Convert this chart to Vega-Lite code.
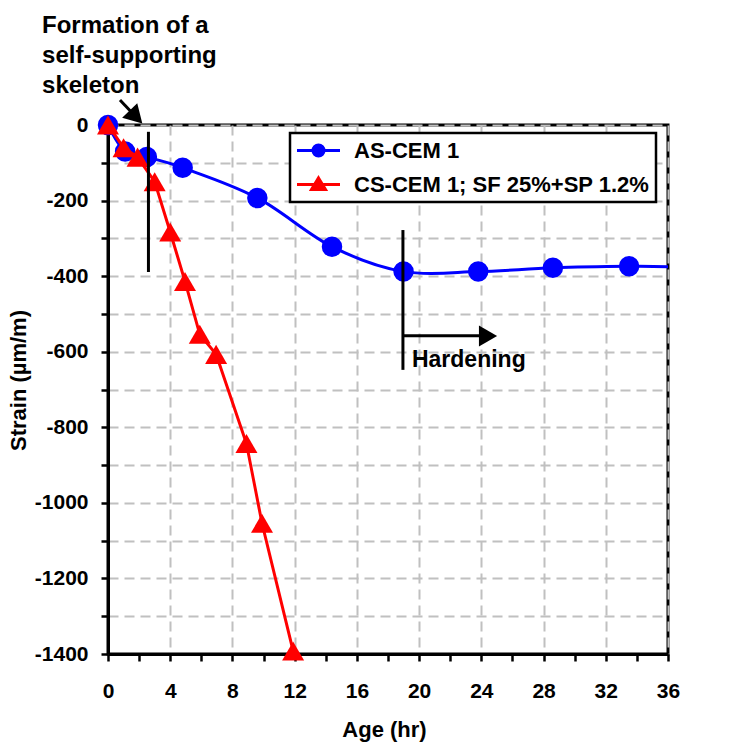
{
  "$schema": "https://vega.github.io/schema/vega-lite/v6.json",
  "width": 560,
  "height": 529,
  "autosize": "none",
  "padding": {"left": 108, "top": 125, "right": 86, "bottom": 93},
  "background": "white",
  "config": {
    "font": "Liberation Sans",
    "view": {"stroke": "black", "strokeWidth": 3}
  },
  "encoding": {
    "x": {
      "field": "age",
      "type": "quantitative",
      "scale": {"domain": [0, 36], "nice": false, "zero": false},
      "axis": {
        "title": "Age (hr)",
        "values": [0, 2, 4, 6, 8, 10, 12, 14, 16, 18, 20, 22, 24, 26, 28, 30, 32, 34, 36],
        "labelExpr": "datum.value % 4 === 0 ? '' + datum.value : ''",
        "labelOverlap": false,
        "labelFlush": false,
        "grid": true,
        "gridOpacity": {"condition": {"test": "datum.value % 4 !== 0", "value": 0}, "value": 1},
        "gridColor": "#c0c0c0",
        "gridDash": [10, 6],
        "gridWidth": 2,
        "domainColor": "black",
        "domainWidth": 3,
        "tickColor": "black",
        "tickWidth": 2.5,
        "tickSize": 7,
        "labelFont": "Liberation Sans",
        "labelFontSize": 21,
        "labelFontWeight": "bold",
        "labelColor": "black",
        "labelPadding": 19,
        "titleFont": "Liberation Sans",
        "titleFontSize": 22,
        "titleFontWeight": "bold",
        "titleColor": "black",
        "titleX": 276,
        "titleY": 82,
        "titleAlign": "center",
        "titleBaseline": "alphabetic"
      }
    },
    "y": {
      "field": "strain",
      "type": "quantitative",
      "scale": {"domain": [-1400, 0], "nice": false, "zero": false},
      "axis": {
        "title": "Strain (µm/m)",
        "values": [-1400, -1300, -1200, -1100, -1000, -900, -800, -700, -600, -500, -400, -300, -200, -100, 0],
        "labelExpr": "datum.value % 200 === 0 ? '' + datum.value : ''",
        "labelOverlap": false,
        "labelFlush": false,
        "grid": true,
        "gridColor": "#c0c0c0",
        "gridDash": [10, 6],
        "gridWidth": 2,
        "domainColor": "black",
        "domainWidth": 3,
        "tickColor": "black",
        "tickWidth": 2.5,
        "tickSize": 7,
        "labelFont": "Liberation Sans",
        "labelFontSize": 21,
        "labelFontWeight": "bold",
        "labelColor": "black",
        "labelPadding": 13,
        "titleFont": "Liberation Sans",
        "titleFontSize": 22,
        "titleFontWeight": "bold",
        "titleColor": "black",
        "titleAngle": -90,
        "titleX": -90,
        "titleY": 255,
        "titleAlign": "center",
        "titleBaseline": "middle"
      }
    }
  },
  "layer": [
    {
      "data": {"values": [
        {"series": "AS-CEM 1", "age": 0, "strain": 0, "measured": true},
        {"series": "AS-CEM 1", "age": 1.1, "strain": -70, "measured": true},
        {"series": "AS-CEM 1", "age": 2.5, "strain": -85, "measured": true},
        {"series": "AS-CEM 1", "age": 4.8, "strain": -113, "measured": true},
        {"series": "AS-CEM 1", "age": 9.6, "strain": -193, "measured": true},
        {"series": "AS-CEM 1", "age": 14.4, "strain": -322, "measured": true},
        {"series": "AS-CEM 1", "age": 19.0, "strain": -388, "measured": true},
        {"series": "AS-CEM 1", "age": 23.8, "strain": -388, "measured": true},
        {"series": "AS-CEM 1", "age": 28.6, "strain": -378, "measured": true},
        {"series": "AS-CEM 1", "age": 33.5, "strain": -374, "measured": true},
        {"series": "AS-CEM 1", "age": 36, "strain": -375, "measured": false}
      ]},
      "layer": [
        {
          "mark": {"type": "line", "interpolate": "cardinal", "strokeWidth": 3},
          "encoding": {
            "color": {
              "field": "series",
              "type": "nominal",
              "scale": {"domain": ["AS-CEM 1", "CS-CEM 1; SF 25%+SP 1.2%"], "range": ["#0000ff", "#ff0000"]},
              "legend": {
                "orient": "none",
                "legendX": 182,
                "legendY": 8,
                "title": null,
                "fillColor": "white",
                "strokeColor": "black",
                "padding": 6,
                "rowPadding": 10,
                "labelFont": "Liberation Sans",
                "labelFontSize": 22,
                "labelFontWeight": "bold",
                "labelColor": "black",
                "labelLimit": 500,
                "symbolSize": 400,
                "symbolOffset": 11,
                "labelOffset": 24,
                "symbolStrokeWidth": 3,
                "encode": {
                  "legend": {"update": {"strokeWidth": {"value": 2.5}}},
                  "symbols": {"update": {
                    "shape": {"signal": "datum.value === 'AS-CEM 1' ? 'M-2.15,0L2.15,0M0.55,0A0.55,0.55,0,1,1,-0.55,0A0.55,0.55,0,1,1,0.55,0Z' : 'M-2.15,0L2.15,0M0,-0.65L0.7,0.5L-0.7,0.5Z'"},
                    "fill": {"signal": "datum.value === 'AS-CEM 1' ? '#0000ff' : '#ff0000'"},
                    "stroke": {"signal": "datum.value === 'AS-CEM 1' ? '#0000ff' : '#ff0000'"},
                    "strokeWidth": {"value": 3},
                    "opacity": {"value": 1}
                  }}
                }
              }
            }
          }
        },
        {
          "transform": [{"filter": "datum.measured"}],
          "mark": {"type": "point", "shape": "circle", "filled": true, "opacity": 1, "size": 420, "color": "#0000ff"}
        }
      ]
    },
    {
      "data": {"values": [
        {"series": "CS-CEM 1; SF 25%+SP 1.2%", "age": 0, "strain": 0},
        {"series": "CS-CEM 1; SF 25%+SP 1.2%", "age": 1.0, "strain": -60},
        {"series": "CS-CEM 1; SF 25%+SP 1.2%", "age": 1.9, "strain": -85},
        {"series": "CS-CEM 1; SF 25%+SP 1.2%", "age": 3.0, "strain": -150},
        {"series": "CS-CEM 1; SF 25%+SP 1.2%", "age": 4.0, "strain": -283},
        {"series": "CS-CEM 1; SF 25%+SP 1.2%", "age": 4.95, "strain": -414},
        {"series": "CS-CEM 1; SF 25%+SP 1.2%", "age": 5.9, "strain": -554},
        {"series": "CS-CEM 1; SF 25%+SP 1.2%", "age": 6.95, "strain": -607},
        {"series": "CS-CEM 1; SF 25%+SP 1.2%", "age": 8.9, "strain": -843},
        {"series": "CS-CEM 1; SF 25%+SP 1.2%", "age": 9.9, "strain": -1054},
        {"series": "CS-CEM 1; SF 25%+SP 1.2%", "age": 11.9, "strain": -1392}
      ]},
      "layer": [
        {
          "mark": {"type": "line", "strokeWidth": 3},
          "encoding": {
            "color": {"field": "series", "type": "nominal"}
          }
        },
        {
          "mark": {"type": "point", "shape": "triangle-up", "filled": true, "opacity": 1, "size": 484, "color": "#ff0000"}
        }
      ]
    },
    {
      "data": {"values": [
        {"age": 2.6, "strain": -18, "age2": 2.6, "strain2": -389},
        {"age": 18.96, "strain": -278, "age2": 18.96, "strain2": -648},
        {"age": 18.96, "strain": -558, "age2": 24.4, "strain2": -558},
        {"age": 0.77, "strain": 66, "age2": 1.8, "strain2": 21}
      ]},
      "mark": {"type": "rule", "color": "black", "strokeWidth": 3},
      "encoding": {
        "x2": {"field": "age2"},
        "y2": {"field": "strain2"}
      }
    },
    {
      "data": {"values": [{"age": 1.8, "strain": 21.2}]},
      "mark": {"type": "point", "shape": "triangle-up", "filled": true, "opacity": 1, "color": "black", "size": 441, "angle": 136}
    },
    {
      "data": {"values": [{"age": 24.43, "strain": -558.4}]},
      "mark": {"type": "point", "shape": "triangle-up", "filled": true, "opacity": 1, "color": "black", "size": 441, "angle": 90}
    },
    {
      "data": {"values": [{"age": 19.54, "strain": -640, "label": "Hardening"}]},
      "mark": {"type": "text", "font": "Liberation Sans", "fontWeight": "bold", "fontSize": 23, "align": "left", "baseline": "alphabetic", "color": "black"},
      "encoding": {"text": {"field": "label"}}
    },
    {
      "data": {"values": [{"age": -4.24, "strain": 243, "label": "Formation of a\nself-supporting\nskeleton"}]},
      "mark": {"type": "text", "font": "Liberation Sans", "fontWeight": "bold", "fontSize": 24, "align": "left", "baseline": "alphabetic", "lineHeight": 30, "lineBreak": "\n", "color": "black"},
      "encoding": {"text": {"field": "label"}}
    }
  ]
}
